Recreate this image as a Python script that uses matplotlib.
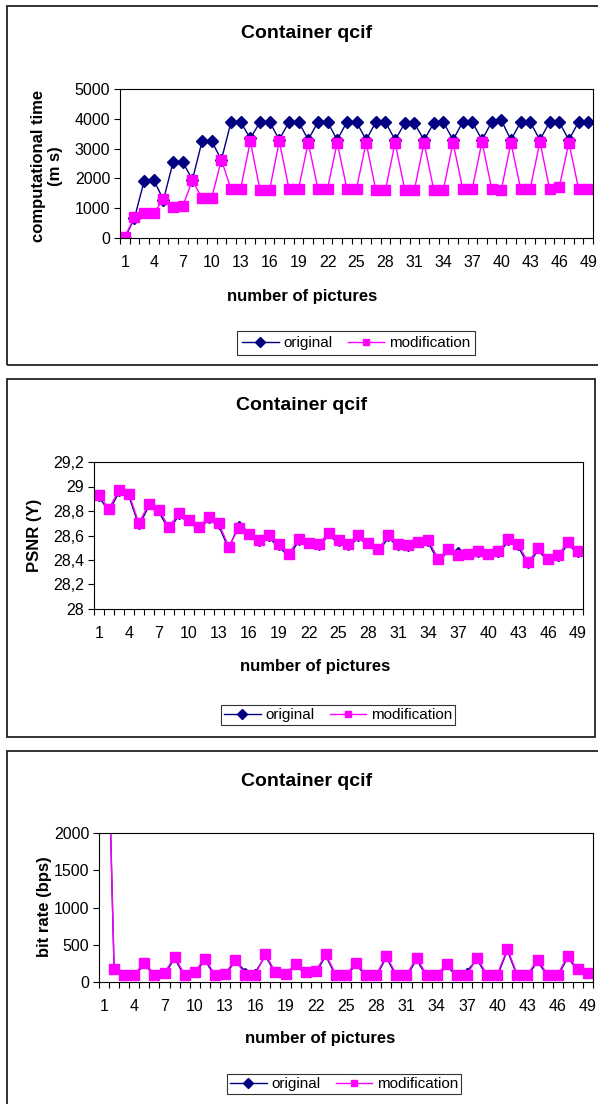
import numpy as np
import matplotlib
matplotlib.use("Agg")
import matplotlib.pyplot as plt
from matplotlib.patches import Rectangle
from matplotlib.lines import Line2D
from matplotlib.ticker import FuncFormatter

plt.rcParams['font.family'] = ['Liberation Sans', 'DejaVu Sans']

# picture numbers 1..49
pictures = list(range(1, 50))
tick_labels = list(range(1, 50, 3))

# computational time (ms)
time_original = [0, 670, 1910, 1950, 1275, 2550, 2550, 1950, 3250, 3250,
                 2620, 3890, 3890, 3340, 3890, 3890, 3300, 3890, 3890, 3300,
                 3890, 3890, 3290, 3890, 3890, 3290, 3890, 3890, 3290, 3850,
                 3850, 3290, 3850, 3890, 3290, 3890, 3890, 3290, 3890, 3950,
                 3290, 3890, 3890, 3290, 3890, 3890, 3290, 3890, 3890]
time_modified = [50, 700, 840, 840, 1300, 1030, 1070, 1930, 1340, 1340,
                 2620, 1650, 1650, 3250, 1610, 1610, 3250, 1660, 1660, 3200,
                 1660, 1660, 3200, 1660, 1660, 3200, 1610, 1610, 3200, 1620,
                 1620, 3200, 1620, 1620, 3200, 1660, 1660, 3230, 1660, 1610,
                 3200, 1660, 1660, 3230, 1660, 1700, 3200, 1660, 1660]

# PSNR (Y)
psnr_original = [28.91, 28.80, 28.95, 28.92, 28.68, 28.84, 28.79, 28.65, 28.76, 28.71,
                 28.65, 28.73, 28.68, 28.49, 28.69, 28.63, 28.54, 28.58, 28.51, 28.43,
                 28.55, 28.52, 28.51, 28.60, 28.54, 28.51, 28.58, 28.52, 28.47, 28.58,
                 28.51, 28.50, 28.53, 28.54, 28.39, 28.47, 28.48, 28.43, 28.45, 28.43,
                 28.45, 28.55, 28.51, 28.36, 28.48, 28.39, 28.42, 28.53, 28.45]
psnr_modified = [28.93, 28.82, 28.97, 28.94, 28.70, 28.86, 28.81, 28.67, 28.78, 28.73,
                 28.67, 28.75, 28.70, 28.51, 28.66, 28.61, 28.56, 28.60, 28.53, 28.45,
                 28.57, 28.54, 28.53, 28.62, 28.56, 28.53, 28.60, 28.54, 28.49, 28.60,
                 28.53, 28.52, 28.55, 28.56, 28.41, 28.49, 28.44, 28.45, 28.47, 28.45,
                 28.47, 28.57, 28.53, 28.38, 28.50, 28.41, 28.44, 28.55, 28.47]

# bit rate (bps)
rate_original = [5500, 150, 75, 75, 240, 80, 105, 315, 75, 115,
                 295, 75, 90, 280, 150, 130, 350, 115, 90, 215,
                 115, 125, 350, 75, 75, 235, 75, 75, 330, 75,
                 75, 300, 75, 75, 215, 75, 148, 300, 75, 75,
                 425, 75, 75, 280, 75, 75, 330, 150, 105]
rate_modified = [5500, 170, 100, 100, 260, 100, 125, 335, 100, 135,
                 315, 100, 110, 300, 100, 100, 370, 135, 110, 240,
                 135, 150, 370, 100, 100, 255, 100, 100, 350, 100,
                 100, 320, 100, 100, 240, 100, 100, 320, 100, 100,
                 445, 100, 100, 300, 100, 100, 350, 170, 125]

NAVY = '#000080'
PINK = '#FF00FF'
W, H = 598, 1104

fig = plt.figure(figsize=(W / 100, H / 100), dpi=100)


def fx(x):
    return x / W


def fy(y):
    return 1 - y / H


def frame(l, t, r, b):
    fig.patches.append(Rectangle((fx(l), fy(b)), fx(r) - fx(l), fy(t) - fy(b),
                                 transform=fig.transFigure, fill=False,
                                 edgecolor='#222222', linewidth=1.3))


def panel(l, t, r, b, orig, mod, ms_orig):
    ax = fig.add_axes([fx(l), fy(b), fx(r) - fx(l), fy(t) - fy(b)])
    ax.plot(pictures, orig, color=NAVY, lw=1.0, marker='D', ms=ms_orig,
            mec=NAVY, mfc=NAVY)
    ax.plot(pictures, mod, color=PINK, lw=1.0, marker='s', ms=6.8,
            mec=PINK, mfc=PINK)
    ax.set_xlim(0.5, 49.5)
    ax.set_xticks(tick_labels)
    ax.set_xticks(np.arange(0.5, 50, 1), minor=True)
    ax.tick_params(axis='x', which='major', length=0, pad=12, labelsize=11.5)
    ax.tick_params(axis='x', which='minor', length=4, width=0.8, direction='out')
    ax.tick_params(axis='y', length=4, width=0.8, direction='out', pad=3,
                   labelsize=11.5)
    for s in ax.spines.values():
        s.set_linewidth(0.8)
    return ax


def legend(cx, cy, h):
    handles = [Line2D([], [], color=NAVY, lw=1.0, marker='D', ms=5),
               Line2D([], [], color=PINK, lw=1.0, marker='s', ms=5)]
    lg = fig.legend(handles, ['original', 'modification'], ncol=2,
                    loc='center', bbox_to_anchor=(fx(cx), fy(cy)),
                    fontsize=11, frameon=True, fancybox=False,
                    handlelength=2.4, handletextpad=0.3, columnspacing=1.0,
                    borderpad=0.35 if h > 28 else 0.2, borderaxespad=0)
    lg.get_frame().set_edgecolor('black')
    lg.get_frame().set_linewidth(0.8)


# outer chart frames
frame(7, 6, 604, 365)
frame(7, 379, 595, 737)
frame(7, 751, 604, 1110)

# panel 1: computational time
ax1 = panel(120, 89, 593, 238, time_original, time_modified, 6.5)
ax1.set_ylim(0, 5000)
ax1.set_yticks(range(0, 5001, 1000))
fig.text(fx(307), fy(34), 'Container qcif', ha='center', va='center',
         fontsize=14, fontweight='bold')
fig.text(fx(302), fy(296), 'number of pictures', ha='center', va='center',
         fontsize=12, fontweight='bold')
fig.text(fx(47), fy(166), 'computational time\n(m s)', ha='center', va='center',
         rotation=90, fontsize=12, fontweight='bold', linespacing=1.15)
legend(356, 343, 31)

# panel 2: PSNR
ax2 = panel(94, 462, 583, 609, psnr_original, psnr_modified, 3)
ax2.set_ylim(28, 29.2)
ax2.set_yticks(np.arange(28, 29.21, 0.2))
ax2.yaxis.set_major_formatter(FuncFormatter(lambda v, p: f'{v:.1f}'.rstrip('0').rstrip('.').replace('.', ',')))
fig.text(fx(302), fy(406), 'Container qcif', ha='center', va='center',
         fontsize=14, fontweight='bold')
fig.text(fx(315), fy(666), 'number of pictures', ha='center', va='center',
         fontsize=12, fontweight='bold')
fig.text(fx(35), fy(535), 'PSNR (Y)', ha='center', va='center',
         rotation=90, fontsize=12, fontweight='bold')
legend(338, 715, 25)

# panel 3: bit rate
ax3 = panel(99, 833, 593, 982, rate_original, rate_modified, 3)
ax3.set_ylim(0, 2000)
ax3.set_yticks(range(0, 2001, 500))
fig.text(fx(307), fy(781), 'Container qcif', ha='center', va='center',
         fontsize=14, fontweight='bold')
fig.text(fx(320), fy(1038), 'number of pictures', ha='center', va='center',
         fontsize=12, fontweight='bold')
fig.text(fx(45), fy(907), 'bit rate (bps)', ha='center', va='center',
         rotation=90, fontsize=12, fontweight='bold')
legend(344, 1084, 25)

fig.savefig('out.png', dpi=100)
